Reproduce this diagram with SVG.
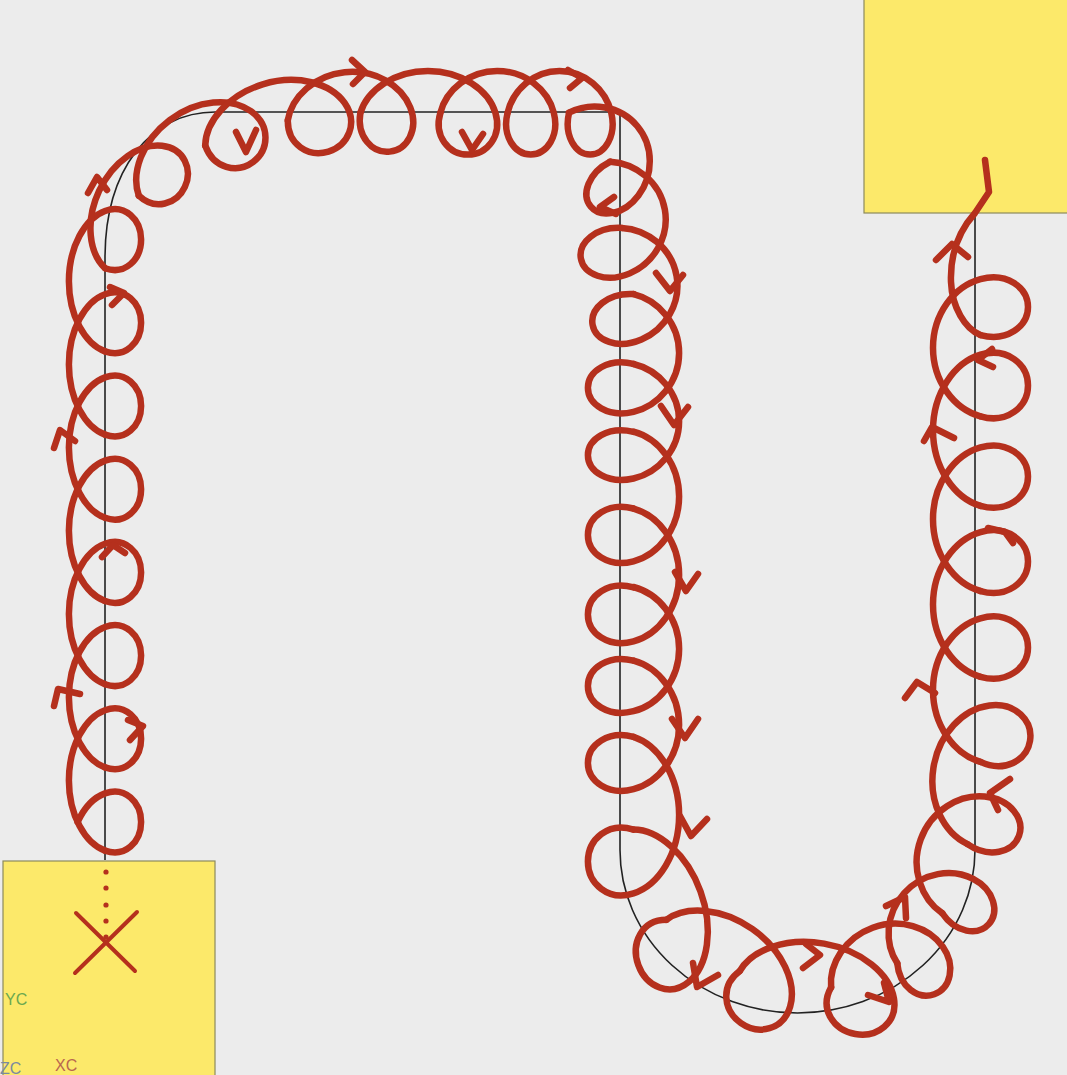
<svg xmlns="http://www.w3.org/2000/svg" xmlns:xlink="http://www.w3.org/1999/xlink" width="1067" height="1075" viewBox="0 0 1067 1075">
<style>
.box{fill:#fce96a;stroke:#8c8a5c;stroke-width:1.2}
.guide{fill:none;stroke:#222;stroke-width:1.6}
.red{fill:none;stroke:#b5301d;stroke-width:6.5;stroke-linecap:round;stroke-linejoin:round}
.rs{vector-effect:non-scaling-stroke}
.lbl{font-family:"Liberation Sans",Arial,sans-serif;font-size:16px}
</style>
<defs>
<path id="u" class="rs" d="M0,0 C5.63,-20.99 27.39,-38 54,-38 C80.61,-38 102.37,-20.99 108,0 C113.63,20.99 101.36,38 86,38 C70.64,38 58.37,20.99 64,0"/>
<path id="lead" class="rs" d="M22,-28.8 C33.2,-21.7 41.1,-10.9 44,0 C49.63,20.99 37.36,38 22,38 C6.64,38 -5.63,20.99 0,0"/>
</defs>
<rect x="0" y="0" width="1067" height="1075" fill="#ececec"/>
<g id="start-box">
<rect class="box" x="3" y="861" width="212" height="220"/>
<text class="lbl" x="5" y="1005" fill="#6aa84f">YC</text>
<text class="lbl" x="55" y="1071" fill="#b8664f">XC</text>
<text class="lbl" x="0" y="1074" fill="#7a8aa0">ZC</text>
</g>
<g id="end-box">
<rect class="box" x="864" y="-2" width="205" height="215"/>
</g>
<g id="connectors">
<path class="guide" d="M105,860 V258 C105,170 150,112 215,112 H620 V850 A177.5,163 0 0 0 975,850 V213"/>
<g class="red">
<g transform="translate(105,850.6) rotate(-90) scale(1.3,0.95)">
<use xlink:href="#lead"/>
<use xlink:href="#u"/>
<use xlink:href="#u" x="64"/>
<use xlink:href="#u" x="128"/>
<use xlink:href="#u" x="192"/>
<use xlink:href="#u" x="256"/>
<use xlink:href="#u" x="320"/>
<use xlink:href="#u" x="384"/>
</g>
<use xlink:href="#u" transform="translate(105,268.2) rotate(-65) scale(1.25,1.0)"/>
<use xlink:href="#u" transform="translate(138.8,195.7) rotate(-37) scale(1.3,1.1)"/>
<use xlink:href="#u" transform="translate(205.2,145.6) rotate(-17) scale(1.35,1.1)"/>
<use xlink:href="#u" transform="translate(287.8,120.3) rotate(-6) scale(1.14,1.1)"/>
<use xlink:href="#u" transform="translate(360.4,112.7) scale(1.25,1.1)"/>
<use xlink:href="#u" transform="translate(440.4,112.7) scale(1.05,1.1)"/>
<use xlink:href="#u" transform="translate(507.6,112.7) scale(0.96,1.1)"/>
<use xlink:href="#u" transform="translate(569,112.7) rotate(50) scale(1.0,1.15)"/>
<use xlink:href="#u" transform="translate(610.1,161.7) rotate(80) scale(1.05,1.2)"/>
<use xlink:href="#u" transform="translate(621.8,227.9) rotate(80) scale(1.05,1.2)"/>
<use xlink:href="#u" transform="translate(633.5,294.1) rotate(90) scale(1.09,1.2)"/>
<use xlink:href="#u" transform="translate(633.5,364) rotate(90) scale(1.06,1.2)"/>
<use xlink:href="#u" transform="translate(633.5,431.7) rotate(90) scale(1.2,1.2)"/>
<use xlink:href="#u" transform="translate(633.5,508.6) rotate(90) scale(1.23,1.2)"/>
<use xlink:href="#u" transform="translate(633.5,587) rotate(90) scale(1.15,1.2)"/>
<use xlink:href="#u" transform="translate(633.5,660.7) rotate(90) scale(1.19,1.2)"/>
<use xlink:href="#u" transform="translate(633.5,736.8) rotate(90) scale(1.45,1.2)"/>
<use xlink:href="#u" transform="translate(633.5,829.6) rotate(70) scale(1.5,1.1)"/>
<use xlink:href="#u" transform="translate(666.3,919.8) rotate(35) scale(1.4,1.1)"/>
<use xlink:href="#u" transform="translate(739.7,971.2) rotate(10) scale(1.45,1.1)"/>
<use xlink:href="#u" transform="translate(831.1,987.3) rotate(-20) scale(1.1,1.1)"/>
<use xlink:href="#u" transform="translate(897.3,963.2) rotate(-48) scale(1.05,1.1)"/>
<use xlink:href="#u" transform="translate(942.3,913.3) rotate(-70) scale(1.15,1.2)"/>
<use xlink:href="#u" transform="translate(967.5,844.1) rotate(-81) scale(1.3,1.2)"/>
<use xlink:href="#u" transform="translate(980.5,761.9) rotate(-90) scale(1.33,1.25)"/>
<use xlink:href="#u" transform="translate(980.5,676.8) rotate(-90) scale(1.34,1.25)"/>
<use xlink:href="#u" transform="translate(980.5,591) rotate(-90) scale(1.33,1.25)"/>
<use xlink:href="#u" transform="translate(980.5,505.9) rotate(-90) scale(1.4,1.25)"/>
<use xlink:href="#u" transform="translate(980.5,416.3) rotate(-90) scale(1.27,1.25)"/>
<path d="M980.5,335 C965,329 952,307 951,282 C950,256 958,232 975,213 L989,192 L985,160"/>
<path d="M88,193 L97,177 L107,190"/>
<path d="M236,132 L246,152 L256,130"/>
<path d="M352,60 L365,72 L353,84"/>
<path d="M462,132 L472,150 L483,134"/>
<path d="M568,70 L582,78 L570,88"/>
<path d="M614,197 L600,207 L616,214"/>
<path d="M656,273 L670,291 L683,275"/>
<path d="M661,406 L674,425 L688,407"/>
<path d="M675,572 L686,591 L698,574"/>
<path d="M672,719 L685,738 L698,719"/>
<path d="M680,816 L691,836 L707,819"/>
<path d="M693,963 L697,987 L718,975"/>
<path d="M806,944 L820,955 L803,968"/>
<path d="M868,995 L889,1002 L884,983"/>
<path d="M886,906 L905,897 L906,918"/>
<path d="M905,698 L917,682 L935,693"/>
<path d="M1010,779 L990,793 L998,810"/>
<path d="M988,528 L1005,532 L1013,543"/>
<path d="M936,260 L952,244 L968,257"/>
<path d="M992,349 L978,360 L993,367"/>
<path d="M924,441 L932,427 L954,438"/>
<path d="M110,287 L124,293 L112,305"/>
<path d="M54,448 L60,430 L75,441"/>
<path d="M102,557 L113,545 L125,553"/>
<path d="M54,706 L58,689 L80,694"/>
<path d="M128,720 L143,726 L130,740"/>
</g>
<g fill="#b5301d">
<circle cx="106" cy="872" r="2.6"/>
<circle cx="106" cy="888" r="2.6"/>
<circle cx="106" cy="905" r="2.6"/>
<circle cx="106" cy="921" r="2.6"/>
<circle cx="106" cy="937" r="2.6"/>
</g>
<path class="red" style="stroke-width:4" d="M76,913 L135,971 M137,912 L75,973"/>
</g>
</svg>
